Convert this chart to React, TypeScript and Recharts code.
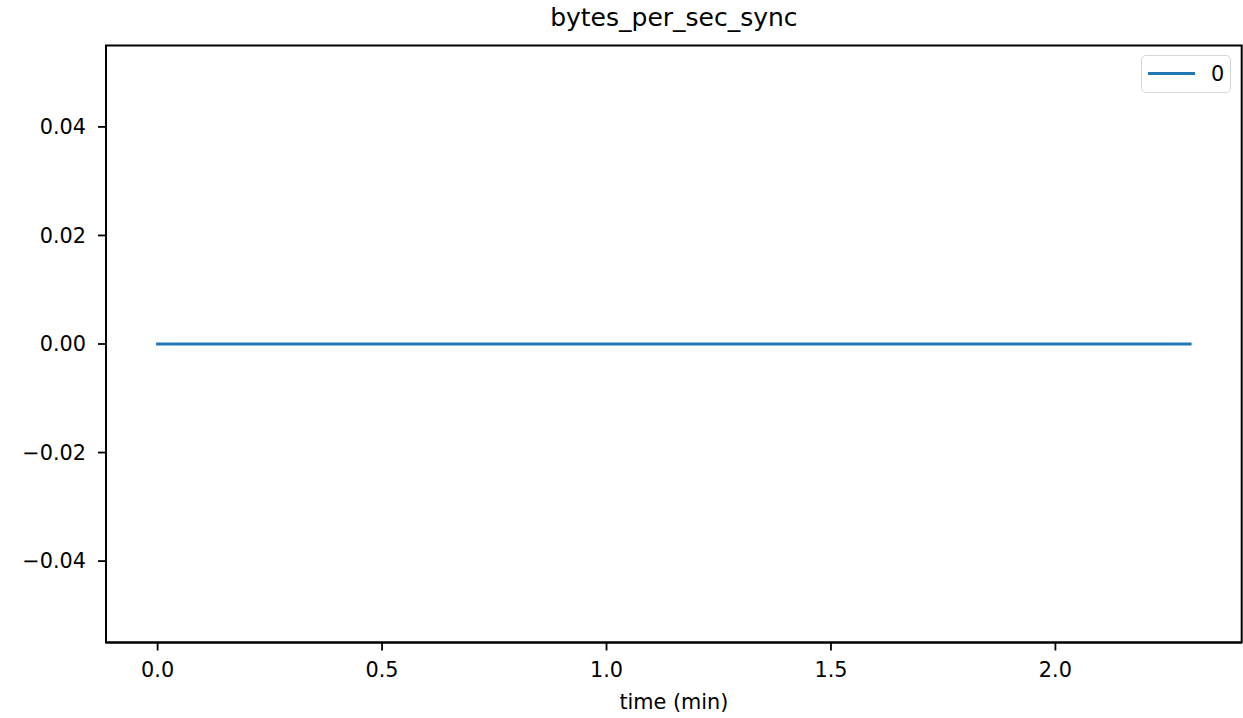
import React from 'react';
import { LineChart, Line, XAxis, YAxis, Legend, ReferenceArea } from 'recharts';

const times = [0, 0.25, 0.5, 0.75, 1.0, 1.25, 1.5, 1.75, 2.0, 2.3];
const values = [0, 0, 0, 0, 0, 0, 0, 0, 0, 0];
const xTicks = [0, 0.5, 1.0, 1.5, 2.0];
const yTicks = [-0.04, -0.02, 0, 0.02, 0.04];
const xDomain: [number, number] = [-0.115, 2.415];
const yDomain: [number, number] = [-0.055, 0.055];
const seriesName = '0';
const title = 'bytes_per_sec_sync';
const xLabel = 'time (min)';

const data = times.map((t, i) => ({ t, v: values[i] }));

const FONT = '"DejaVu Sans", sans-serif';
const TICK_FS = 20.8;
const BLUE = '#1f77b4';

const fmtY = (v: number) => (v < 0 ? '\u2212' : '') + Math.abs(v).toFixed(2);
const fmtX = (v: number) => v.toFixed(1);

const LegendBox = (props: any) => {
  const payload = props.payload || [];
  return (
    <div
      style={{
        width: 90,
        height: 38,
        border: '1.5px solid #d6d6d6',
        borderRadius: 5,
        background: 'rgba(255,255,255,0.8)',
        boxSizing: 'border-box',
        position: 'relative',
        fontFamily: FONT,
      }}
    >
      {payload.map((p: any, i: number) => (
        <div key={i}>
          <div
            style={{
              position: 'absolute',
              left: 6,
              top: 16,
              width: 47,
              height: 3,
              background: p.color,
            }}
          />
          <div
            style={{
              position: 'absolute',
              left: 69,
              top: 3,
              fontSize: TICK_FS,
              lineHeight: '30px',
              color: '#000',
            }}
          >
            {p.value}
          </div>
        </div>
      ))}
    </div>
  );
};

export default function App() {
  return (
    <div style={{ position: 'absolute', left: 0, top: 0, width: 1243, height: 718, background: '#fff' }}>
      <div
        style={{
          position: 'absolute',
          left: 0,
          width: 1347.8,
          top: 4.8,
          textAlign: 'center',
          fontFamily: FONT,
          fontSize: 25,
          lineHeight: '25px',
          color: '#000',
          whiteSpace: 'nowrap',
        }}
      >
        {title}
      </div>
      <LineChart
        width={1243}
        height={718}
        data={data}
        margin={{ top: 45.5, right: 1.3, bottom: 0.5, left: 6 }}
      >
        <XAxis
          dataKey="t"
          type="number"
          domain={xDomain}
          ticks={xTicks}
          tickFormatter={fmtX}
          interval={0}
          height={75}
          tickSize={8}
          tickMargin={12}
          axisLine={{ stroke: '#000', strokeWidth: 2 }}
          tickLine={{ stroke: '#000', strokeWidth: 1.8 }}
          tick={{ fill: '#000', fontSize: TICK_FS, fontFamily: FONT }}
          allowDataOverflow
        />
        <YAxis
          type="number"
          domain={yDomain}
          ticks={yTicks}
          tickFormatter={fmtY}
          interval={0}
          width={100}
          tickSize={8}
          tickMargin={12}
          axisLine={{ stroke: '#000', strokeWidth: 2 }}
          tickLine={{ stroke: '#000', strokeWidth: 1.8 }}
          tick={{ fill: '#000', fontSize: TICK_FS, fontFamily: FONT }}
          allowDataOverflow
        />
        <ReferenceArea
          x1={xDomain[0]}
          x2={xDomain[1]}
          y1={yDomain[0]}
          y2={yDomain[1]}
          fill="none"
          fillOpacity={0}
          stroke="#000"
          strokeWidth={2}
          strokeOpacity={1}
        />
        <Legend
          layout="horizontal"
          verticalAlign="middle"
          align="center"
          content={<LegendBox />}
          wrapperStyle={{ position: 'absolute', left: 1141, top: 55, width: 90, height: 38 }}
        />
        <Line
          dataKey="v"
          name={seriesName}
          stroke={BLUE}
          strokeWidth={3}
          strokeLinecap="square"
          dot={false}
          activeDot={false}
          isAnimationActive={false}
        />
      </LineChart>
      <div
        style={{
          position: 'absolute',
          left: 0,
          width: 1347.8,
          top: 692,
          textAlign: 'center',
          fontFamily: FONT,
          fontSize: TICK_FS,
          lineHeight: `${TICK_FS}px`,
          color: '#000',
          whiteSpace: 'nowrap',
        }}
      >
        {xLabel}
      </div>
    </div>
  );
}
